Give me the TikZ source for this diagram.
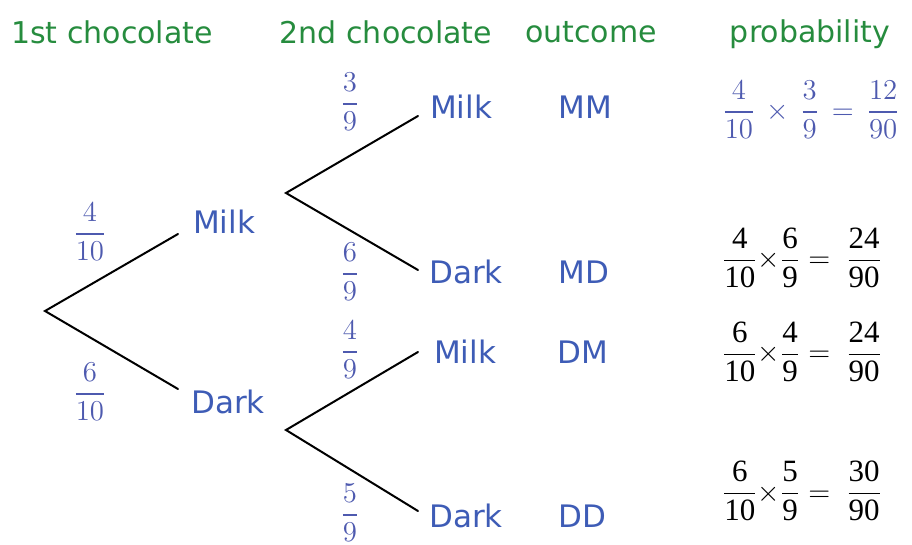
\documentclass[tikz,border=0pt]{standalone}
\usepackage{amsmath}
\usepackage[no-math]{fontspec}
\newfontfamily\labelfont{DejaVu Sans}
\newfontfamily\numfont{Liberation Serif}
\definecolor{hdrgreen}{RGB}{38,140,62}
\definecolor{lblblue}{RGB}{62,92,182}
\definecolor{fracblue}{RGB}{78,90,175}
\newcommand{\nf}[1]{\hbox{\numfont #1}}
\tikzset{
  header/.style={text=hdrgreen, font=\labelfont\fontsize{15}{18}\selectfont, inner sep=0pt},
  choice/.style={text=lblblue, font=\labelfont\fontsize{15.5}{18}\selectfont, inner sep=0pt},
  prob/.style={text=fracblue, font=\fontsize{14}{17}\selectfont, inner sep=0pt},
  bigprob/.style={text=fracblue, font=\fontsize{15}{17}\selectfont, inner sep=0pt},
  blackprob/.style={text=black, font=\fontsize{15.5}{18}\selectfont, inner sep=0pt},
  branch/.style={line width=1pt, black, line cap=round}
}
\begin{document}
\begin{tikzpicture}[x=0.5pt,y=-0.5pt]
\useasboundingbox (0,0) rectangle (912,545);
% headers
\node[header] (h1) at (112,32) {1st chocolate};
\node[header] (h2) at (386,32) {2nd chocolate};
\node[header] (h3) at (591,32) {outcome};
\node[header] (h4) at (810,34) {probability};
% tree points
\coordinate (root) at (45,311);
\coordinate (e1) at (178,234);
\coordinate (e2) at (178,389);
\coordinate (r1) at (286,193);
\coordinate (r2) at (286,430);
\coordinate (e11) at (418,116);
\coordinate (e12) at (418,270);
\coordinate (e21) at (418,352);
\coordinate (e22) at (418,511);
\draw[branch] (e1) -- (root) -- (e2);
\draw[branch] (e11) -- (r1) -- (e12);
\draw[branch] (e21) -- (r2) -- (e22);
% first level labels
\node[choice] (m1) at (224,222) {Milk};
\node[choice] (d1) at (228,402) {Dark};
\node[prob] (p1) at (90,232) {$\dfrac{4}{10}$};
\node[prob] (p2) at (90,392) {$\dfrac{6}{10}$};
% second level labels
\node[choice] (mm) at (461,107) {Milk};
\node[choice] (md) at (466,272) {Dark};
\node[choice] (dm) at (465,352) {Milk};
\node[choice] (dd) at (466,516) {Dark};
\node[prob] (q1) at (350,102) {$\dfrac{3}{9}$};
\node[prob] (q2) at (350,272) {$\dfrac{6}{9}$};
\node[prob] (q3) at (350,350) {$\dfrac{4}{9}$};
\node[prob] (q4) at (350,513) {$\dfrac{5}{9}$};
% outcomes
\node[choice] (o1) at (585,107) {MM};
\node[choice] (o2) at (584,272) {MD};
\node[choice] (o3) at (583,352) {DM};
\node[choice] (o4) at (582,516) {DD};
% probabilities
\node[bigprob] (pr1) at (811,110) {$\dfrac{4}{10}\,\times\,\dfrac{3}{9}\,=\,\dfrac{12}{90}$};
\node[blackprob] (pr2) at (802,258) {$\dfrac{\nf{4}}{\nf{10}}{\times}\dfrac{\nf{6}}{\nf{9}}=\;\dfrac{\nf{24}}{\nf{90}}$};
\node[blackprob] (pr3) at (802,352) {$\dfrac{\nf{6}}{\nf{10}}{\times}\dfrac{\nf{4}}{\nf{9}}=\;\dfrac{\nf{24}}{\nf{90}}$};
\node[blackprob] (pr4) at (802,491) {$\dfrac{\nf{6}}{\nf{10}}{\times}\dfrac{\nf{5}}{\nf{9}}=\;\dfrac{\nf{30}}{\nf{90}}$};
\end{tikzpicture}
\end{document}
